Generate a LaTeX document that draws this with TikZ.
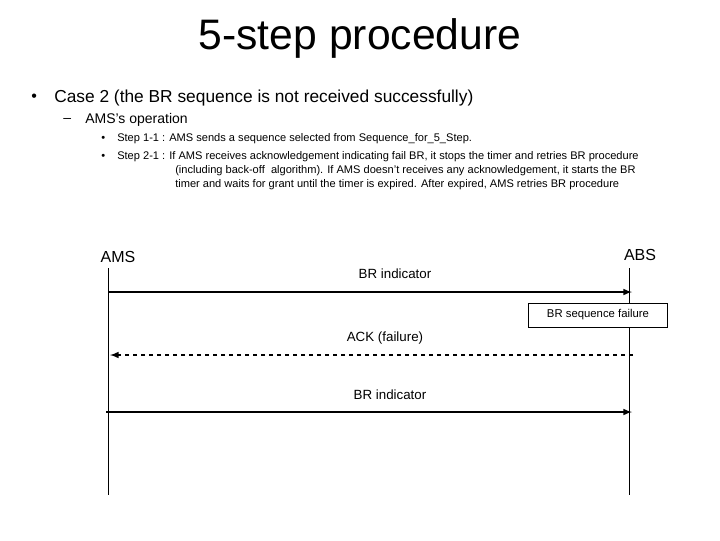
\documentclass[tikz,border=0pt]{standalone}
\usepackage{fontspec}
\setmainfont{Liberation Sans}
\begin{document}
\begin{tikzpicture}[x=0.75pt,y=-0.75pt,
  txt/.style={inner sep=0pt,anchor=west},
  life/.style={draw=black,line width=0.5pt},
  msg/.style={draw=black,line width=1.2pt,-latex},
  lbl/.style={inner sep=0pt,font=\fontsize{10}{12}\selectfont}]
\useasboundingbox[fill=white] (0,0) rectangle (720,540);
\node[inner sep=0pt,font=\fontsize{32}{36}\selectfont] (title) at (360,38) {5-step procedure};
\node[txt,font=\fontsize{12}{14}\selectfont] (b1) at (31,98) {•};
\node[txt,font=\fontsize{13}{15}\selectfont] (case) at (54,98) {Case 2 (the BR sequence is not received successfully)};
\node[txt,font=\fontsize{10.5}{12}\selectfont] (dash) at (63,120) {–};
\node[txt,font=\fontsize{10.5}{12}\selectfont] (op) at (85,120) {AMS's operation};
\begin{scope}[font=\fontsize{8.3}{10}\selectfont]
\node[txt] (s1b) at (101,139) {•};
\node[txt] (s1) at (117,139) {Step 1-1 : AMS sends a sequence selected from Sequence\_for\_5\_Step.};
\node[txt] (s2b) at (101,157) {•};
\node[txt] (s2) at (117,157) {Step 2-1 : If AMS receives acknowledgement indicating fail BR, it stops the timer and retries BR procedure};
\node[txt] (s2c) at (175,171) {(including back-off\ \ algorithm). If AMS doesn't receives any acknowledgement, it starts the BR};
\node[txt] (s2d) at (175,185) {timer and waits for grant until the timer is expired. After expired, AMS retries BR procedure};
\end{scope}
\node[inner sep=0pt,font=\fontsize{12}{14}\selectfont] (ams) at (118,257) {AMS};
\node[inner sep=0pt,font=\fontsize{12}{14}\selectfont] (abs) at (640,255) {ABS};
\coordinate (a0) at (108,268); \coordinate (a1) at (108,495);
\coordinate (b0) at (629,268); \coordinate (b1e) at (629,495);
\draw[life] (a0) -- (a1);
\draw[life] (b0) -- (b1e);
\coordinate (m1s) at (108,292); \coordinate (m1e) at (632,292);
\draw[msg] (m1s) -- (m1e);
\node[lbl] (l1) at (395,274) {BR indicator};
\node[draw,fill=white,line width=0.5pt,minimum width=104pt,minimum height=18pt,inner sep=0pt,font=\fontsize{8.5}{10}\selectfont] (fail) at (598,315) {BR sequence failure};
\coordinate (m2s) at (633,355); \coordinate (m2e) at (110,355);
\draw[msg,dashed] (m2s) -- (m2e);
\node[lbl] (l2) at (385,338) {ACK (failure)};
\coordinate (m3s) at (106,412); \coordinate (m3e) at (632,412);
\draw[msg] (m3s) -- (m3e);
\node[lbl] (l3) at (390,395) {BR indicator};
\end{tikzpicture}
\end{document}
